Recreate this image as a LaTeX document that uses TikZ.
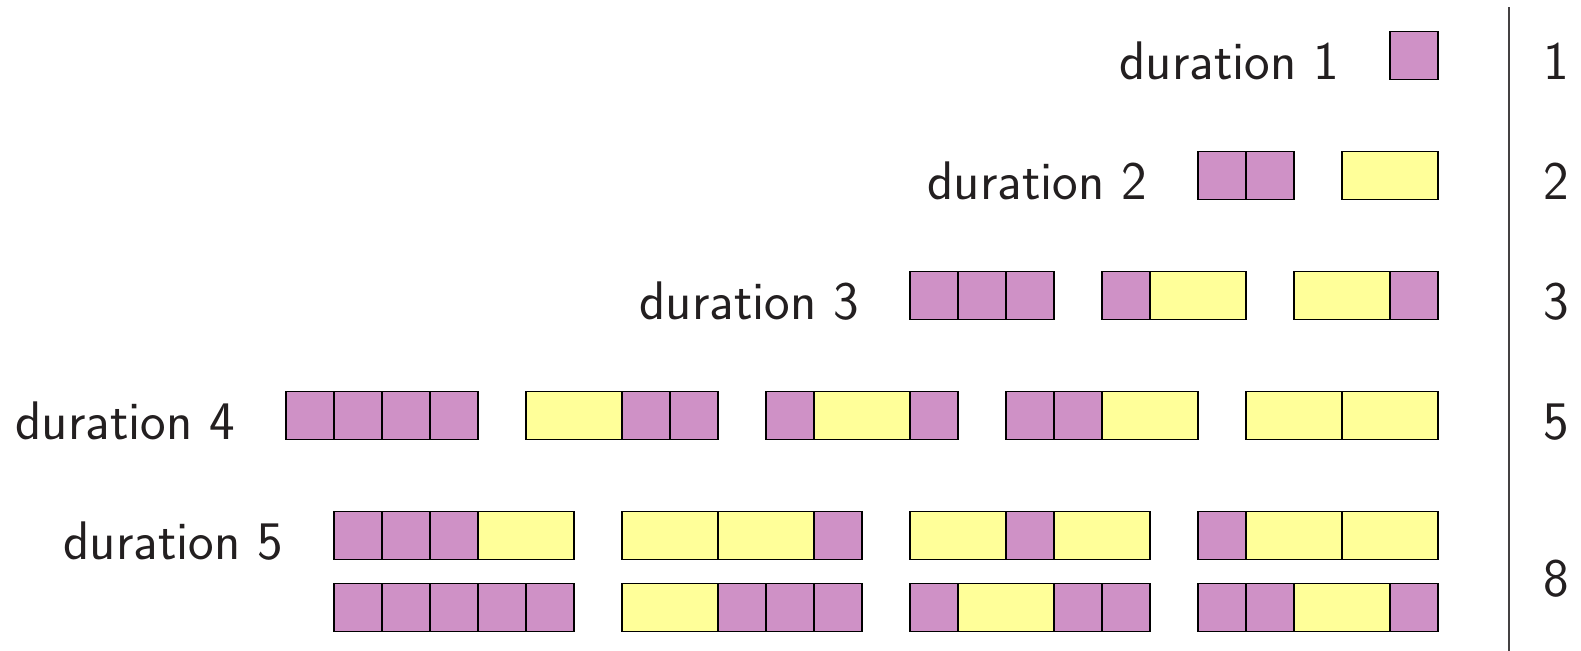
\documentclass[tikz,border=0pt]{standalone}
\usepackage{fontspec}
\definecolor{tpink}{RGB}{207,145,198}
\definecolor{tyellow}{RGB}{255,255,153}
\definecolor{tink}{RGB}{35,31,32}
\newcommand{\tileseq}[3]{%
  \foreach \w [remember=\nx as \cx (initially #1), evaluate=\w as \nx using \cx+\w] in {#3} {
    \draw[tile\w] (\cx,#2) rectangle (\nx,#2-1);
  }%
}
\begin{document}
\begin{tikzpicture}[x=0.5cm,y=0.5cm,
  tile1/.style={fill=tpink,draw=black,line width=0.4pt},
  tile2/.style={fill=tyellow,draw=black,line width=0.4pt},
  lab/.style={font=\sffamily\fontsize{16.1}{20}\selectfont,text=tink,inner sep=0pt,anchor=base east},
  num/.style={font=\sffamily\fontsize{16.1}{20}\selectfont,text=tink,inner sep=0pt,anchor=base}]
\useasboundingbox (0,0) rectangle (32.9375,-13.5625);
\def\R{29.96}
% row 1
\tileseq{\R-1}{-0.66}{1}
% row 2
\tileseq{\R-5}{-3.16}{1,1}
\tileseq{\R-2}{-3.16}{2}
% row 3
\tileseq{\R-11}{-5.66}{1,1,1}
\tileseq{\R-7}{-5.66}{1,2}
\tileseq{\R-3}{-5.66}{2,1}
% row 4
\tileseq{\R-24}{-8.16}{1,1,1,1}
\tileseq{\R-19}{-8.16}{2,1,1}
\tileseq{\R-14}{-8.16}{1,2,1}
\tileseq{\R-9}{-8.16}{1,1,2}
\tileseq{\R-4}{-8.16}{2,2}
% row 5a
\tileseq{\R-23}{-10.66}{1,1,1,2}
\tileseq{\R-17}{-10.66}{2,2,1}
\tileseq{\R-11}{-10.66}{2,1,2}
\tileseq{\R-5}{-10.66}{1,2,2}
% row 5b
\tileseq{\R-23}{-12.16}{1,1,1,1,1}
\tileseq{\R-17}{-12.16}{2,1,1,1}
\tileseq{\R-11}{-12.16}{1,2,1,1}
\tileseq{\R-5}{-12.16}{1,1,2,1}
% labels
\node[lab] (d1) at (\R-1-1.05,-1.66) {duration 1};
\node[lab] (d2) at (\R-5-1.05,-4.16) {duration 2};
\node[lab] (d3) at (\R-11-1.05,-6.66) {duration 3};
\node[lab] (d4) at (\R-24-1.05,-9.16) {duration 4};
\node[lab] (d5) at (\R-23-1.05,-11.66) {duration 5};
% separator
\coordinate (lt) at (31.44,-0.15);
\coordinate (lb) at (31.44,-13.5625);
\draw[line width=0.45pt,tink!85] (lt) -- (lb);
% counts
\node[num] (n1) at (32.42,-1.66) {1};
\node[num] (n2) at (32.42,-4.16) {2};
\node[num] (n3) at (32.42,-6.66) {3};
\node[num] (n5) at (32.42,-9.16) {5};
\node[num] (n8) at (32.42,-12.43) {8};
\end{tikzpicture}
\end{document}
